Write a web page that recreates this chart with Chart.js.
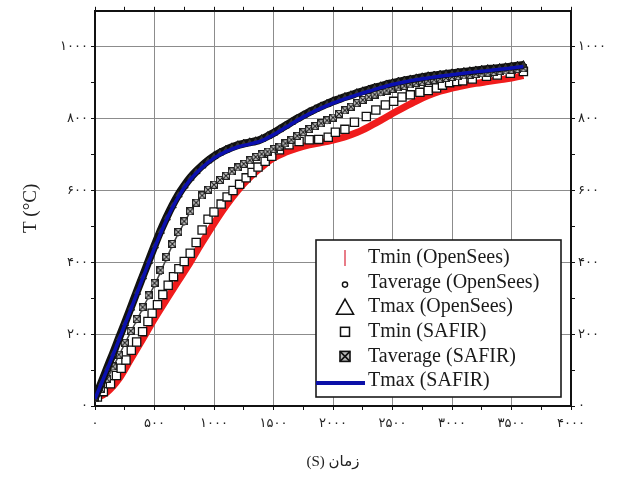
<!DOCTYPE html>
<html><head><meta charset="utf-8">
<script src="https://cdn.jsdelivr.net/npm/chart.js@4.4.1/dist/chart.umd.min.js"></script>
<style>html,body{margin:0;padding:0;background:#fff;} canvas{display:block;}</style>
</head><body>
<canvas id="c" width="620" height="483"></canvas>
<script>
// ---------- data ----------
const seriesNames = ['Tmin (OpenSees)', 'Taverage (OpenSees)', 'Tmax (OpenSees)', 'Tmin (SAFIR)', 'Taverage (SAFIR)', 'Tmax (SAFIR)'];

const timeLine = [0,100,200,300,400,500,600,700,800,900,1000,1100,1200,1300,1400,1500,1600,1700,1800,1900,2000,2100,2200,2300,2400,2500,2600,2700,2800,2900,3000,3100,3200,3300,3400,3500,3600];
const tminOpenSees = [20,38,75,130,186,243,296,348,400,455,508,557,600,636,665,690,706,718,727,733,740,749,761,777,795,814,832,849,864,876,885,892,898,903,908,913,920];
const tmaxSafir = [20,100,183,268,355,440,518,582,630,664,690,708,721,729,738,755,775,795,813,829,843,855,866,876,886,895,902,908,913,918,922,926,930,933,937,941,945];

const timeDense = [0,50,100,150,200,250,300,350,400,450,500,550,600,650,700,750,800,850,900,950,1000,1050,1100,1150,1200,1250,1300,1350,1400,1450,1500,1550,1600,1650,1700,1750,1800,1850,1900,1950,2000,2050,2100,2150,2200,2250,2300,2350,2400,2450,2500,2550,2600,2650,2700,2750,2800,2850,2900,2950,3000,3050,3100,3150,3200,3250,3300,3350,3400,3450,3500,3550,3600];
const tmaxOpenSees = [22,62,104,145,188,230,273,317,360,403,446,487,524,558,588,613,635,653,669,683,695,705,713,720,726,730,734,737,743,751,760,770,780,790,800,809,818,826,834,841,848,854,860,865,871,876,881,886,890,895,899,903,906,909,912,915,918,920,922,924,926,928,930,932,934,936,938,939,941,943,945,947,949];
const tavgOpenSees = [22,45,73,107,140,173,206,238,271,304,337,372,410,447,480,510,540,565,585,600,613,625,638,651,663,672,682,691,699,706,712,719,728,739,750,760,769,777,784,792,800,810,820,830,840,849,857,864,870,875,880,885,889,893,897,900,903,906,909,912,914,916,918,920,922,924,926,928,930,932,934,936,938];
const tavgSafir = [22,47,76,110,143,176,209,242,275,308,342,378,415,451,484,514,542,566,586,602,616,629,641,653,664,674,684,693,701,708,715,722,731,741,752,762,771,779,787,795,803,813,823,833,843,852,860,867,873,878,883,887,891,895,899,902,905,908,911,913,916,918,920,922,924,926,928,930,932,934,936,938,940];

const tminSafirTime = [20,70,130,180,220,260,305,350,400,445,480,525,570,615,660,705,750,800,850,900,950,1000,1060,1110,1160,1215,1270,1320,1370,1430,1485,1550,1630,1715,1800,1880,1960,2020,2100,2180,2280,2360,2440,2510,2580,2650,2730,2800,2870,2920,2980,3040,3090,3170,3290,3380,3490,3600];
const tminSafirTemp = [25,40,62,85,105,128,155,178,207,235,258,282,310,336,360,382,402,425,455,490,520,540,562,582,600,617,635,650,665,681,695,713,727,736,741,742,748,762,770,790,806,824,838,848,860,866,873,878,885,893,900,903,905,910,918,921,926,931];

const xTickValues = [0,500,1000,1500,2000,2500,3000,3500,4000];
const xTickLabels = ['۰','۵۰۰','۱۰۰۰','۱۵۰۰','۲۰۰۰','۲۵۰۰','۳۰۰۰','۳۵۰۰','۴۰۰۰'];
const yTickValues = [0,200,400,600,800,1000];
const yTickLabels = ['۰','۲۰۰','۴۰۰','۶۰۰','۸۰۰','۱۰۰۰'];
const xTitle = '\u202Bزمان (S)\u202C';
const yTitle = 'T (°C)';

// ---------- helpers ----------
const pts = (xs, ys) => xs.map((x, i) => ({x, y: ys[i]}));

function makeXSquare(size) {
  const c = document.createElement('canvas');
  c.width = size; c.height = size;
  const g = c.getContext('2d');
  g.fillStyle = '#eee';
  g.fillRect(0.5, 0.5, size - 1, size - 1);
  g.strokeStyle = '#222';
  g.lineWidth = 1.2;
  g.strokeRect(0.6, 0.6, size - 1.2, size - 1.2);
  g.beginPath();
  g.moveTo(1, 1); g.lineTo(size - 1, size - 1);
  g.moveTo(size - 1, 1); g.lineTo(1, size - 1);
  g.stroke();
  return c;
}
const xSquare = makeXSquare(8);

const labelFor = (vals, labs) => v => { const i = vals.indexOf(v); return i >= 0 ? labs[i] : ''; };
const gridColorFor = vals => ctx => (ctx.tick && vals.indexOf(ctx.tick.value) >= 0) ? '#8c8c8c' : 'rgba(0,0,0,0)';

// ---------- legend plugin ----------
const boxLegend = {
  id: 'boxLegend',
  afterDatasetsDraw(chart) {
    const ctx = chart.ctx, ca = chart.chartArea;
    const left = ca.right - 255, top = ca.bottom - 166, w = 245, h = 157;
    ctx.save();
    ctx.fillStyle = '#fff';
    ctx.fillRect(left, top, w, h);
    ctx.strokeStyle = '#1a1a1a';
    ctx.lineWidth = 1.6;
    ctx.strokeRect(left, top, w, h);
    const sx = left + 29, tx = left + 52;
    ctx.font = '20px "Liberation Serif", "DejaVu Serif", serif';
    ctx.textBaseline = 'middle';
    ctx.textAlign = 'left';
    seriesNames.forEach((name, i) => {
      const y = top + 18 + i * 24.6;
      ctx.lineWidth = 1.4;
      ctx.strokeStyle = '#111';
      ctx.fillStyle = '#fff';
      if (i === 0) {
        ctx.strokeStyle = '#e05060'; ctx.lineWidth = 1.5;
        ctx.beginPath(); ctx.moveTo(sx, y - 8); ctx.lineTo(sx, y + 8); ctx.stroke();
      } else if (i === 1) {
        ctx.beginPath(); ctx.arc(sx, y + 2, 2.6, 0, Math.PI * 2); ctx.fill(); ctx.stroke();
      } else if (i === 2) {
        ctx.lineWidth = 1.6;
        ctx.beginPath(); ctx.moveTo(sx, y - 8); ctx.lineTo(sx + 8.5, y + 7); ctx.lineTo(sx - 8.5, y + 7); ctx.closePath(); ctx.stroke();
      } else if (i === 3) {
        ctx.lineWidth = 1.5;
        ctx.strokeRect(sx - 4.5, y - 4.5, 9, 9);
      } else if (i === 4) {
        ctx.fillStyle = '#bbb';
        ctx.fillRect(sx - 5, y - 5, 10, 10);
        ctx.lineWidth = 1.6;
        ctx.strokeRect(sx - 5, y - 5, 10, 10);
        ctx.beginPath(); ctx.moveTo(sx - 5, y - 5); ctx.lineTo(sx + 5, y + 5); ctx.moveTo(sx + 5, y - 5); ctx.lineTo(sx - 5, y + 5); ctx.stroke();
      } else {
        ctx.strokeStyle = '#0b10a8'; ctx.lineWidth = 4;
        ctx.beginPath(); ctx.moveTo(left, y + 2); ctx.lineTo(left + 49, y + 2); ctx.stroke();
      }
      ctx.fillStyle = '#1a1a1a';
      ctx.fillText(name, tx, y);
    });
    ctx.restore();
  }
};

// ---------- chart ----------
const tickFont = {family: '"DejaVu Sans", sans-serif', size: 13};
const commonX = {
  type: 'linear', min: 0, max: 4000,
  border: {color: '#111', width: 2},
  ticks: {stepSize: 250, autoSkip: false, maxRotation: 0, color: '#222', font: tickFont, padding: 6,
          callback: labelFor(xTickValues, xTickLabels)},
  grid: {color: gridColorFor(xTickValues), tickColor: '#111', tickLength: 4, lineWidth: 1}
};
const commonY = {
  type: 'linear', min: 0, max: 1100,
  border: {color: '#111', width: 2},
  afterBuildTicks: s => { s.ticks = s.ticks.filter(t => t.value <= 1000); },
  ticks: {stepSize: 100, autoSkip: false, color: '#222', font: tickFont, padding: 3,
          callback: labelFor(yTickValues, yTickLabels)},
  grid: {color: gridColorFor(yTickValues), tickColor: '#111', tickLength: 4, lineWidth: 1}
};

new Chart(document.getElementById('c'), {
  type: 'scatter',
  data: {
    datasets: [
      { label: seriesNames[5], data: pts(timeLine, tmaxSafir), showLine: true, borderColor: '#0b10b0', borderWidth: 3.5,
        pointRadius: 0, tension: 0.4, cubicInterpolationMode: 'monotone', order: 0 },
      { label: seriesNames[2], data: pts(timeDense, tmaxOpenSees), showLine: true, borderColor: '#111', borderWidth: 8,
        pointStyle: 'triangle', pointRadius: 4.5, pointBorderColor: '#111', pointBackgroundColor: '#333', pointBorderWidth: 1,
        tension: 0.4, cubicInterpolationMode: 'monotone', order: 1 },
      { label: seriesNames[4], data: pts(timeDense, tavgSafir), showLine: false,
        pointStyle: xSquare, pointRadius: 4, order: 2 },
      { label: seriesNames[1], data: pts(timeDense, tavgOpenSees), showLine: true, borderColor: '#444', borderWidth: 1.5,
        pointStyle: 'circle', pointRadius: 2.3, pointBorderColor: '#222', pointBackgroundColor: '#fff', pointBorderWidth: 1,
        tension: 0.4, cubicInterpolationMode: 'monotone', order: 3 },
      { label: seriesNames[3], data: pts(tminSafirTime, tminSafirTemp), showLine: false,
        pointStyle: 'rect', pointRadius: 5.8, pointBorderColor: '#111', pointBackgroundColor: '#fff', pointBorderWidth: 1.3, order: 4 },
      { label: seriesNames[0], data: pts(timeLine, tminOpenSees), showLine: true, borderColor: '#f01c1c', borderWidth: 7,
        pointRadius: 0, tension: 0.4, cubicInterpolationMode: 'monotone', order: 5 }
    ]
  },
  options: {
    responsive: false, animation: false, devicePixelRatio: 1,
    layout: {padding: 0},
    plugins: {legend: {display: false}, tooltip: {enabled: false}},
    scales: {
      x: Object.assign({}, commonX, {position: 'bottom', afterFit: s => { s.height = 77; },
        title: {display: true, text: xTitle, color: '#222', font: {family: '"Liberation Serif", "DejaVu Sans", serif', size: 15}, padding: {top: 0, bottom: 12}}}),
      x2: Object.assign({}, commonX, {position: 'top', afterFit: s => { s.height = 10; },
        ticks: Object.assign({}, commonX.ticks, {display: false}),
        grid: Object.assign({}, commonX.grid, {drawOnChartArea: false})}),
      y: Object.assign({}, commonY, {position: 'left', afterFit: s => { s.width = 95; },
        title: {display: true, text: yTitle, color: '#222', font: {family: '"Liberation Serif", serif', size: 19}, padding: {top: 20, bottom: 0}}}),
      y2: Object.assign({}, commonY, {position: 'right', afterFit: s => { s.width = 49; },
        grid: Object.assign({}, commonY.grid, {drawOnChartArea: false})})
    }
  },
  plugins: [boxLegend]
});
</script>
</body></html>
